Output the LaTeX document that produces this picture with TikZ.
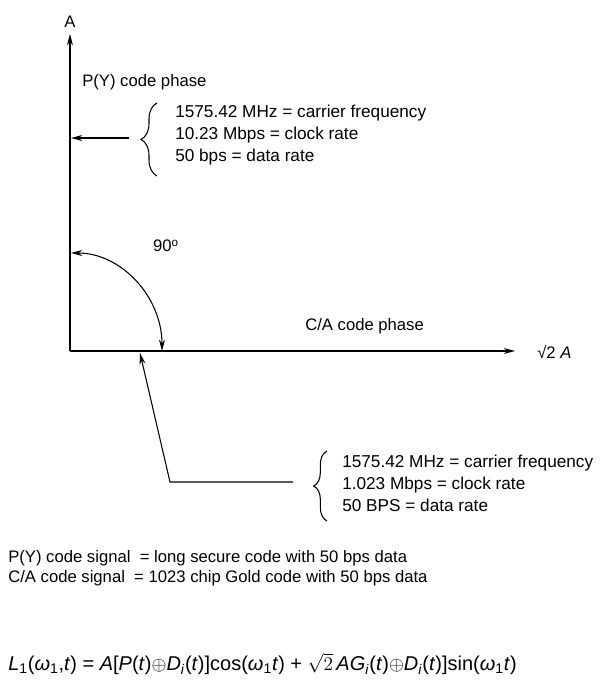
\documentclass[tikz,border=0pt]{standalone}
\usepackage{fontspec}
\setmainfont{Liberation Sans}
\usetikzlibrary{arrows.meta,decorations.pathreplacing}
\tikzset{
  lbl/.style={font=\fontsize{12.5}{16.5}\selectfont, inner sep=0pt},
  info/.style={lbl, font=\fontsize{12.9}{16.5}\selectfont, anchor=west, align=left},
  curly/.style={decorate, decoration={brace, amplitude=#1}, thick}
}
\begin{document}
\begin{tikzpicture}[x=0.75pt, y=-0.75pt, >={Stealth[length=8.5pt,width=4.5pt]}]
  \useasboundingbox (0,0) rectangle (602,680);
  % axes
  \coordinate (O) at (70,351);
  \coordinate (ytop) at (70,34);
  \coordinate (xend) at (515,351);
  \draw[->, thick] (O) -- (ytop);
  \draw[->, thick] (O) -- (xend);
  \node[lbl] (ylab) at (70,22) {A};
  \node[lbl, anchor=west] (xlab) at (537,352) {√2 \textit{A}};

  % P(Y) code phase
  \node[lbl, anchor=west] (pyphase) at (82,82) {P(Y) code phase};
  \draw[curly=12pt] (157,176) -- (157,103);
  \coordinate (pytail) at (129,138);
  \coordinate (pyhit) at (71,138);
  \draw[->, thick] (pytail) -- (pyhit);
  \node[info] (pyinfo) at (175,135) {1575.42 MHz = carrier frequency\\10.23 Mbps = clock rate\\50 bps = data rate};

  % 90 degrees
  \coordinate (arcstart) at (71,253);
  \draw[<->, thick] (arcstart) arc[start angle=-90, end angle=0, x radius=91, y radius=98];
  \node[lbl] (angle) at (166,246) {90$^{\mathrm{o}}$};

  % C/A code phase
  \node[lbl, anchor=west] (caphase) at (305,326) {C/A code phase};
  \coordinate (cahit) at (140,353);
  \coordinate (cacorner) at (170,482);
  \coordinate (catail) at (293,482);
  \draw[->, thick] (catail) -- (cacorner) -- (cahit);
  \draw[curly=10pt] (327,521) -- (327,451);
  \node[info] (cainfo) at (342,483) {1575.42 MHz = carrier frequency\\1.023 Mbps = clock rate\\50 BPS = data rate};

  % signals
  \node[lbl, anchor=west] (pysig) at (8,558) {P(Y) code signal\ \ = long secure code with 50 bps data};
  \node[lbl, anchor=west] (casig) at (8,578) {C/A code signal\ \ = 1023 chip Gold code with 50 bps data};
  \node[lbl, anchor=west, font=\fontsize{15}{18}\selectfont] (l1sig) at (8,664) {\textit{L}\textsubscript{1}(\textit{ω}\textsubscript{1},\textit{t}) = \textit{A}[\textit{P}(\textit{t})$\oplus$\textit{D}\textsubscript{\textit{i}}(\textit{t})]cos(\textit{ω}\textsubscript{1}\textit{t}) + $\sqrt{2}$\,\textit{AG}\textsubscript{\textit{i}}(\textit{t})$\oplus$\textit{D}\textsubscript{\textit{i}}(\textit{t})]sin(\textit{ω}\textsubscript{1}\textit{t})};
\end{tikzpicture}
\end{document}
